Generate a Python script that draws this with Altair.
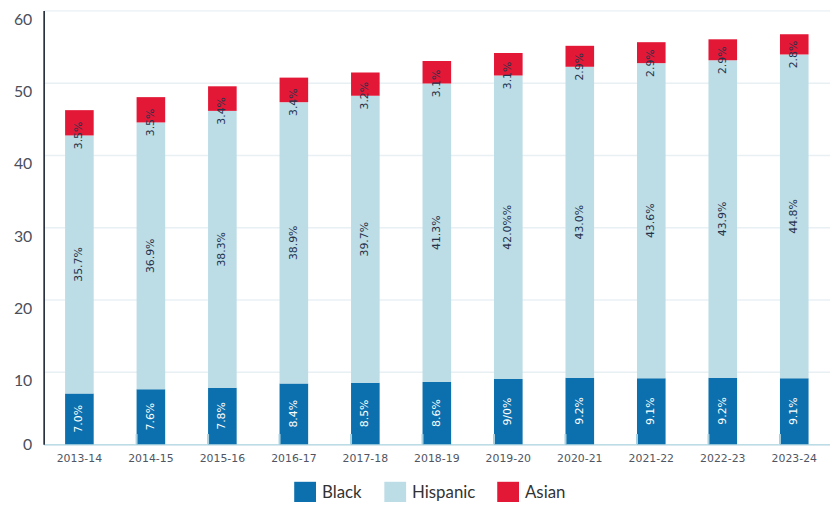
import altair as alt
import pandas as pd

years = ["2013-14", "2014-15", "2015-16", "2016-17", "2017-18", "2018-19",
         "2019-20", "2020-21", "2021-22", "2022-23", "2023-24"]
black = [7.0, 7.6, 7.8, 8.4, 8.5, 8.6, 9.0, 9.2, 9.1, 9.2, 9.1]
hispanic = [35.7, 36.9, 38.3, 38.9, 39.7, 41.3, 42.0, 43.0, 43.6, 43.9, 44.8]
asian = [3.5, 3.5, 3.4, 3.4, 3.2, 3.1, 3.1, 2.9, 2.9, 2.9, 2.8]
black_labels = ["7.0%", "7.6%", "7.8%", "8.4%", "8.5%", "8.6%", "9/0%",
                "9.2%", "9.1%", "9.2%", "9.1%"]
hispanic_labels = ["35.7%", "36.9%", "38.3%", "38.9%", "39.7%", "41.3%",
                   "42.0%%", "43.0%", "43.6%", "43.9%", "44.8%"]
asian_labels = ["3.5%", "3.5%", "3.4%", "3.4%", "3.2%", "3.1%", "3.1%",
                "2.9%", "2.9%", "2.9%", "2.8%"]
groups = ["Black", "Hispanic", "Asian"]
colors = ["#0b70ad", "#bcdce6", "#e31837"]
y_ticks = [0, 10, 20, 30, 40, 50, 60]

rows = []
for i, yr in enumerate(years):
    for k, (g, vals) in enumerate(zip(groups, [black, hispanic, asian])):
        rows.append({"year": yr, "group": g, "value": vals[i], "ord": k})
bars_df = pd.DataFrame(rows)

black_lab = pd.DataFrame({
    "year": years,
    "pos": [b / 2 for b in black],
    "text": black_labels,
})
light_lab = pd.DataFrame({
    "year": years + years,
    "pos": [b + h / 2 for b, h in zip(black, hispanic)] + [b + h for b, h in zip(black, hispanic)],
    "text": hispanic_labels + asian_labels,
})
tick_df = pd.DataFrame({"year": years[1:], "y0": [0.0] * 10, "y1": [1.4] * 10})

xscale = alt.Scale(paddingInner=0.6, paddingOuter=0.3)
yscale = alt.Scale(domain=[0, 60], nice=False)

x_axis = alt.Axis(title=None, labelAngle=0, labelFont="DejaVu Sans", labelFontSize=11,
                  labelColor="#4f5562", ticks=False, tickSize=0, domainColor="#bcdce6",
                  domainWidth=1.5, grid=False, labelPadding=9)
y_axis = alt.Axis(title=None, values=y_ticks, labelFont="Lato", labelFontSize=16,
                  labelColor="#4a4f5c", ticks=False, tickSize=0, labelPadding=12,
                  domainColor="#1c2433", domainWidth=1.6, gridColor="#e8f0f4",
                  gridWidth=1.5,
                  labelOffset={"condition": {"test": "datum.value == 0", "value": 0}, "value": 9})

bars = alt.Chart(bars_df).mark_bar().encode(
    x=alt.X("year:N", sort=years, scale=xscale, axis=x_axis),
    y=alt.Y("value:Q", stack="zero", scale=yscale, axis=y_axis),
    color=alt.Color("group:N", scale=alt.Scale(domain=groups, range=colors),
                    legend=alt.Legend(title=None, orient="none", legendX=253, legendY=476,
                                      direction="horizontal", symbolType="square",
                                      symbolSize=484, symbolStrokeWidth=0,
                                      labelFont="Lato", labelFontSize=17,
                                      labelColor="#333333", columnPadding=22,
                                      labelOffset=6, padding=0)),
    order=alt.Order("ord:Q"),
)

ticks = alt.Chart(tick_df).mark_rule(color="#a8d0de", strokeWidth=2).encode(
    x=alt.X("year:N", sort=years, bandPosition=0, title=None),
    y=alt.Y("y0:Q", title=None),
    y2="y1:Q",
)

txt_black = alt.Chart(black_lab).mark_text(
    angle=270, align="center", baseline="middle", font="DejaVu Sans",
    fontSize=11, color="#ffffff"
).encode(
    x=alt.X("year:N", sort=years, title=None),
    y=alt.Y("pos:Q", stack=None, title=None),
    text="text:N",
)

txt_light = alt.Chart(light_lab).mark_text(
    angle=270, align="center", baseline="middle", font="DejaVu Sans",
    fontSize=11, color="#27324a"
).encode(
    x=alt.X("year:N", sort=years, title=None),
    y=alt.Y("pos:Q", stack=None, title=None),
    text="text:N",
)

chart = alt.layer(bars, ticks, txt_black, txt_light).properties(
    width=794, height=438,
    autosize=alt.AutoSizeParams(type="none"),
    padding={"left": 36, "top": 0, "right": 0, "bottom": 56},
).configure_view(stroke=None)

chart.save("out.html", embed_options={"renderer": "svg", "actions": False})
